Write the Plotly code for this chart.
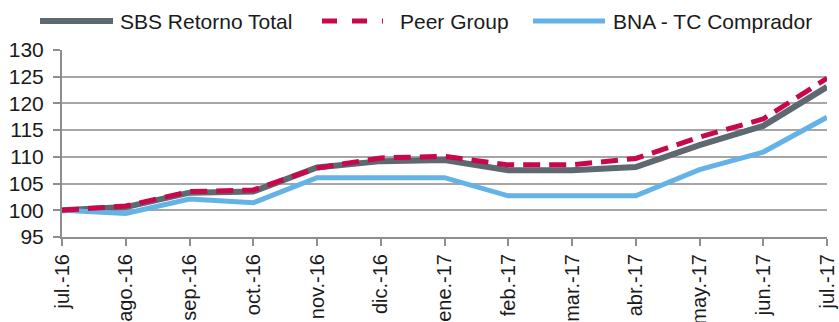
import plotly.graph_objects as go

categories = ["jul.-16", "ago.-16", "sep.-16", "oct.-16", "nov.-16", "dic.-16",
              "ene.-17", "feb.-17", "mar.-17", "abr.-17", "may.-17", "jun.-17", "jul.-17"]
sbs = [100.0, 100.6, 103.3, 103.5, 108.0, 109.2, 109.4, 107.5, 107.5, 108.1, 112.2, 115.8, 123.1]
peer = [100.0, 100.8, 103.5, 103.8, 107.9, 109.8, 110.1, 108.5, 108.5, 109.7, 113.7, 117.1, 124.7]
bna = [100.0, 99.4, 102.1, 101.4, 106.1, 106.1, 106.1, 102.7, 102.7, 102.7, 107.6, 110.9, 117.4]
y_ticks = [95, 100, 105, 110, 115, 120, 125, 130]
series_names = ["SBS Retorno Total", "Peer Group", "BNA - TC Comprador"]

W, H = 839, 322
L, R, T, B = 62, 12, 50, 85
pw, ph = W - L - R, H - T - B

GREY = "#5d6870"
RED = "#c8084b"
BLUE = "#64b3e6"
FONT = "Liberation Sans, Arial, sans-serif"

x = list(range(len(categories)))

fig = go.Figure()
fig.add_trace(go.Scatter(x=x, y=sbs, mode="lines", name=series_names[0],
                         line=dict(color=GREY, width=6), showlegend=False))
fig.add_trace(go.Scatter(x=x, y=bna, mode="lines", name=series_names[2],
                         line=dict(color=BLUE, width=5), showlegend=False))
fig.add_trace(go.Scatter(x=x, y=peer, mode="lines", name=series_names[1],
                         line=dict(color=RED, width=5, dash="17px,9px"), showlegend=False))


def px_x(p):
    return (p - L) / pw


def px_y(p):
    return (H - B - p) / ph


legend_y = 21
items = [
    (40, 113, 118, series_names[0], GREY, None, 6),
    (322, 383, 398, series_names[1], RED, "dash", 5),
    (533, 605, 611, series_names[2], BLUE, None, 5),
]
shapes = []
annotations = []
for x0, x1, tx, name, col, dash, w in items:
    shapes.append(dict(type="line", xref="paper", yref="paper",
                       x0=px_x(x0), x1=px_x(x1), y0=px_y(legend_y), y1=px_y(legend_y),
                       line=dict(color=col, width=w, dash=dash)))
    annotations.append(dict(xref="paper", yref="paper", x=px_x(tx), y=px_y(legend_y),
                            text=name, showarrow=False, xanchor="left", yanchor="middle",
                            font=dict(family=FONT, size=21, color="#1a1a1a")))

fig.update_layout(
    width=W, height=H,
    margin=dict(l=L, r=R, t=T, b=B, pad=0, autoexpand=False),
    paper_bgcolor="white", plot_bgcolor="white",
    font=dict(family=FONT, size=21, color="#1a1a1a"),
    showlegend=False,
    shapes=shapes,
    annotations=annotations,
    xaxis=dict(
        range=[0, len(categories) - 1],
        tickmode="array", tickvals=x, ticktext=categories,
        tickangle=-90, automargin=False,
        showgrid=False, zeroline=False,
        showline=True, linecolor="#8e8e8e", linewidth=2,
        ticks="outside", ticklen=7, tickwidth=2, tickcolor="#8e8e8e",
        tickfont=dict(family=FONT, size=20, color="#1a1a1a"),
    ),
    yaxis=dict(
        range=[95, 130], automargin=False,
        tickmode="array", tickvals=y_ticks,
        showgrid=True, gridcolor="#a6a6a6", gridwidth=2,
        zeroline=False,
        showline=True, linecolor="#8e8e8e", linewidth=2,
        ticks="outside", ticklen=7, tickwidth=2, tickcolor="#8e8e8e",
        tickfont=dict(family=FONT, size=21, color="#1a1a1a"),
        ticklabelstandoff=5,
    ),
)

fig.write_html("out.html")
